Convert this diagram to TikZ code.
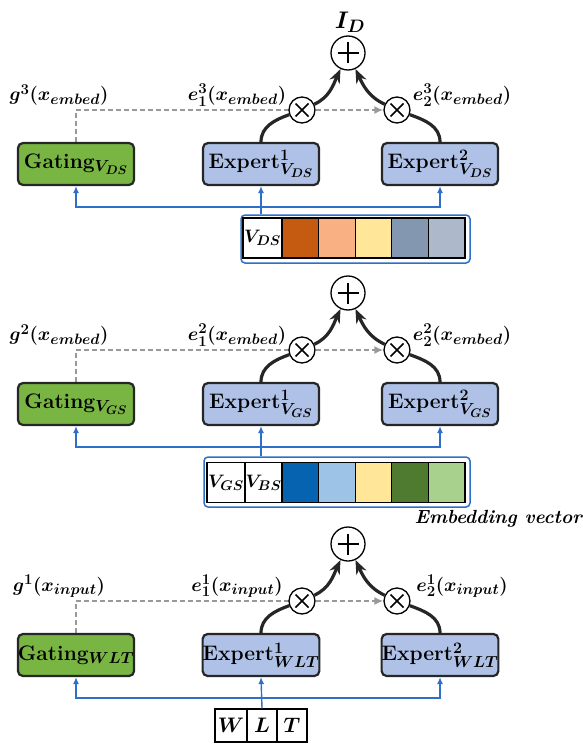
\RequirePackage{fix-cm}
\documentclass[tikz,border=0pt]{standalone}
\usepackage{amsmath,bm}
\usetikzlibrary{arrows.meta}
\DeclareMathSizes{21}{21}{16}{12.5}
\DeclareMathSizes{19}{19}{15}{12}
\DeclareMathSizes{24}{24}{18}{14}
\DeclareMathSizes{18}{18}{14}{11}
\definecolor{gateg}{HTML}{78B543}
\definecolor{expb}{HTML}{AFC1E6}
\definecolor{lineb}{HTML}{2E6FC9}
\definecolor{cA}{HTML}{C55A11}
\definecolor{cB}{HTML}{F9B183}
\definecolor{cC}{HTML}{FFE699}
\definecolor{cD}{HTML}{8497B0}
\definecolor{cE}{HTML}{ADB9CA}
\definecolor{cF}{HTML}{0563B0}
\definecolor{cG}{HTML}{9DC3E6}
\definecolor{cH}{HTML}{4E7B2F}
\definecolor{cI}{HTML}{A9D18E}
\pgfdeclarelayer{bg}
\pgfsetlayers{bg,main}
\tikzset{
  box/.style={draw=black!85, line width=2.2pt, rounded corners=5pt, minimum width=116pt,
    minimum height=42pt, inner sep=0pt, font=\fontsize{21}{24}\selectfont\bfseries\boldmath},
  gatebox/.style={box, fill=gateg},
  expbox/.style={box, fill=expb},
  plusc/.style={circle, draw, line width=1.3pt, minimum size=34pt, inner sep=0pt, fill=white,
    path picture={\draw[line width=2.8pt] (path picture bounding box.center) ++(-10.5pt,0) -- ++(21pt,0);
      \draw[line width=2.8pt] (path picture bounding box.center) ++(0,-10.5pt) -- ++(0,21pt);}},
  timesc/.style={circle, draw, line width=1.3pt, minimum size=26pt, inner sep=0pt, fill=white,
    path picture={\draw[line width=1.7pt] (path picture bounding box.center) ++(-6.5pt,-6.5pt) -- ++(13pt,13pt);
      \draw[line width=1.7pt] (path picture bounding box.center) ++(-6.5pt,6.5pt) -- ++(13pt,-13pt);}},
  lbl/.style={font=\fontsize{19}{22}\selectfont\boldmath, inner sep=0pt},
  thk/.style={line width=3.2pt, black!85},
  thka/.style={thk, -{Stealth[length=14pt,width=11pt]}},
  dsh/.style={black!40, line width=1.8pt, dash pattern=on 5pt off 3pt, -{Latex[length=9pt,width=8pt]}},
  bl/.style={lineb, line width=1.4pt},
  bla/.style={bl, -{Latex[length=7pt,width=6pt]}},
  outerv/.style={draw=lineb, line width=1.5pt, rounded corners=4pt, fill=white, inner sep=0pt},
  cell/.style={draw=black, line width=1.3pt, inner sep=0pt, minimum height=40pt, font=\fontsize{18}{20}\selectfont\boldmath},
  wcell/.style={cell, minimum height=33pt, fill=white, font=\fontsize{21}{23}\selectfont\boldmath},
}
\newcommand{\moeblock}[5]{%
  \begin{scope}[yshift=-#2pt]
    \node[gatebox] (g#1) at (76,-164) {Gating$_{#4}$};
    \node[expbox] (ea#1) at (261,-164) {Expert$^{1}_{#4}$};
    \node[expbox] (eb#1) at (440,-164) {Expert$^{2}_{#4}$};
    \node[plusc] (p#1) at (348,-53) {};
    \node[timesc] (ta#1) at (302,-110) {};
    \node[timesc] (tb#1) at (397,-110) {};
    \node[lbl] (lg#1) at (59,-95) {$g^{#3}(x_{#5})$};
    \node[lbl] (la#1) at (237,-95) {$e^{#3}_{1}(x_{#5})$};
    \node[lbl] (lb#1) at (462,-95) {$e^{#3}_{2}(x_{#5})$};
    \coordinate (h#1) at (261,-207);
  \end{scope}
  \begin{pgfonlayer}{bg}
    \draw[dsh] (g#1.north) |- (tb#1.west);
  \end{pgfonlayer}
  \draw[thk] (ea#1.north) to[out=90,in=200] (ta#1);
  \draw[thka] (ta#1) to[out=25,in=245] (p#1);
  \draw[thk] (eb#1.north) to[out=90,in=-20] (tb#1);
  \draw[thka] (tb#1) to[out=155,in=295] (p#1);
  \draw[bla] (h#1) -| (g#1.south);
  \draw[bla] (h#1) -| (eb#1.south);
}
\begin{document}
\begin{tikzpicture}[x=1pt,y=1pt]
\useasboundingbox (0,0) rectangle (582,-746);
\moeblock{3}{0}{3}{V_{DS}}{embed}
\moeblock{2}{240}{2}{V_{GS}}{embed}
\moeblock{1}{491}{1}{WLT}{input}
\node[font=\fontsize{24}{26}\selectfont\boldmath] (id) at (350,-22) {$I_D$};
% top vector
\node[outerv, minimum width=229pt, minimum height=48pt] (vb3) at (355.5,-239) {};
\node[cell, minimum width=39pt, fill=white] (c30) at (262.5,-238) {$V_{DS}$};
\node[cell, minimum width=36.6pt, fill=cA] (c31) at (300.3,-238) {};
\node[cell, minimum width=36.6pt, fill=cB] (c32) at (336.9,-238) {};
\node[cell, minimum width=36.6pt, fill=cC] (c33) at (373.5,-238) {};
\node[cell, minimum width=36.6pt, fill=cD] (c34) at (410.1,-238) {};
\node[cell, minimum width=36.6pt, fill=cE] (c35) at (446.7,-238) {};
\draw[bla] (vb3.north -| ea3.south) -- (ea3.south);
% middle vector
\node[outerv, minimum width=266pt, minimum height=50pt] (vb2) at (337,-482) {};
\node[cell, minimum width=38pt, fill=white] (c20) at (226,-482.5) {$V_{GS}$};
\node[cell, minimum width=37pt, fill=white] (c21) at (263.5,-482.5) {$V_{BS}$};
\node[cell, minimum width=36.6pt, fill=cF] (c22) at (300.3,-482.5) {};
\node[cell, minimum width=36.6pt, fill=cG] (c23) at (336.9,-482.5) {};
\node[cell, minimum width=36.6pt, fill=cC] (c24) at (373.5,-482.5) {};
\node[cell, minimum width=36.6pt, fill=cH] (c25) at (410.1,-482.5) {};
\node[cell, minimum width=36.6pt, fill=cI] (c26) at (446.7,-482.5) {};
\draw[bla] (vb2.north -| ea2.south) -- (ea2.south);
\node[font=\fontsize{19}{21}\selectfont\bfseries\itshape, anchor=east, inner sep=0pt] (emb) at (582,-519) {Embedding vector};
% bottom input
\node[wcell, minimum width=32pt] (w) at (231,-725.5) {$W$};
\node[wcell, minimum width=30pt] (l) at (262,-725.5) {$L$};
\node[wcell, minimum width=30pt] (t) at (292,-725.5) {$T$};
\draw[bla] (l.north) -- (ea1.south);
\end{tikzpicture}
\end{document}
